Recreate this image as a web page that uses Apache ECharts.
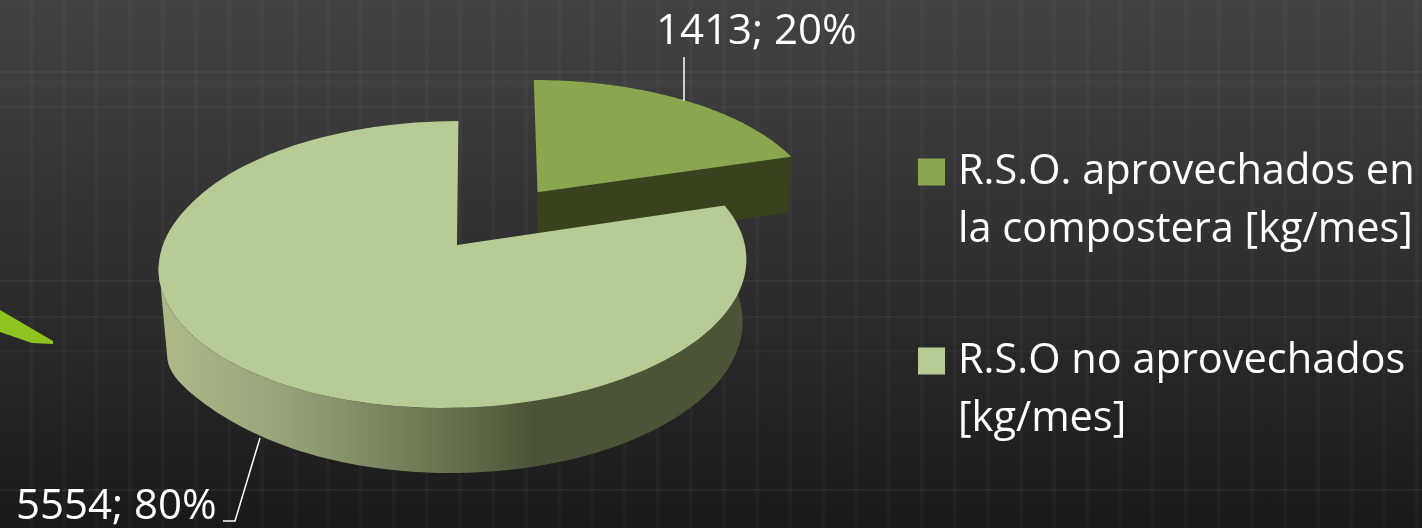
<!DOCTYPE html>
<html>
<head>
<meta charset="utf-8">
<style>
  html, body { margin: 0; height: 100%; background: #2b2b2b; overflow: hidden; }
  #main { width: 1422px; height: 528px; position: relative; }
  /* slide backdrop: dark fade with a faint woven plaid */
  #back {
    position: absolute; left: 0; top: 0; width: 1422px; height: 528px;
    background:
      linear-gradient(to bottom,
        transparent 71px, rgba(255,255,255,.04) 71px, rgba(255,255,255,.04) 73px, transparent 73px,
        transparent 80px, rgba(255,255,255,.02) 80px, rgba(255,255,255,.02) 87px, transparent 87px,
        transparent 106px, rgba(255,255,255,.025) 106px, rgba(255,255,255,.025) 108px, transparent 108px,
        transparent 280px, rgba(255,255,255,.04) 280px, rgba(255,255,255,.04) 282px, transparent 282px,
        transparent 316px, rgba(255,255,255,.04) 316px, rgba(255,255,255,.04) 318px, transparent 318px,
        transparent 350px, rgba(255,255,255,.025) 350px, rgba(255,255,255,.025) 352px, transparent 352px,
        transparent 489px, rgba(255,255,255,.05) 489px, rgba(255,255,255,.05) 491px, transparent 491px),
      repeating-linear-gradient(to right,
        transparent 0, transparent 29px, rgba(255,255,255,.025) 29px, rgba(255,255,255,.025) 33px),
      linear-gradient(to bottom, #424242 0, #2f2f2f 50%, #191919 100%);
  }
</style>
<script src="https://cdn.jsdelivr.net/npm/echarts@6/dist/echarts.min.js"></script>
</head>
<body>
<div id="back"></div>
<div id="main"></div>
<script>
const categories = ['R.S.O. aprovechados en\nla compostera [kg/mes]', 'R.S.O no aprovechados\n[kg/mes]'];
const values = [1413, 5554];
const explode = [0.49, 0];
const colors = ['#8aa64e', '#b7cc94'];
const wallColors = ['#39421f', null];

const total = values[0] + values[1];
const myChart = echarts.init(document.getElementById('main'));

// flat perspective view of the pie, the apex of the whole disc sits at cx, cy
const view = { cx: 457, cy: 245, a: 291, b: 140.8, k: 0.136, drop: 59, ys: 1.037 };

function project(u, v, low, idx) {
  const d = 1 - view.k * v;
  const x = view.a * u / d;
  const y = view.b * v / d;
  if (low) return [view.cx + x * (idx === 0 ? 0.995 : 0.98), view.cy + view.drop + y * view.ys];
  return [view.cx + x, view.cy + y];
}

// the original picture is slightly skewed, nudge the rim to follow it
function skew(v, idx) {
  if (v > -0.3) return -10.4 * (v + 0.3);
  return -(idx === 0 ? 5 : 2) * (v + 0.3);
}

function sliceAngles(idx) {
  let start = 0;
  for (let i = 0; i < idx; i++) start += values[i] / total * Math.PI * 2;
  return [start, start + values[idx] / total * Math.PI * 2];
}

function rim(idx, from, to, low) {
  const e = explode[idx];
  const [a0, a1] = sliceAngles(idx);
  const mid = (a0 + a1) / 2;
  const pts = [];
  const n = 120;
  for (let i = 0; i <= n; i++) {
    const t = from + (to - from) * i / n;
    const u = e * Math.sin(mid) + Math.sin(t);
    const v = -e * Math.cos(mid) - Math.cos(t);
    const p = project(u, v, low, idx);
    p[0] += skew(v, idx) * (low ? 0.5 : 1);
    // the left flank of the wall hangs lower in the original
    if (low && u < 0) p[1] += 29 * Math.pow(-u, 9);
    pts.push(p);
  }
  return pts;
}

function apex(idx, low) {
  const e = explode[idx];
  const [a0, a1] = sliceAngles(idx);
  const mid = (a0 + a1) / 2;
  return project(e * Math.sin(mid), -e * Math.cos(mid), low, idx);
}

function poly(points, fill) {
  return { type: 'polygon', shape: { points: points }, style: { fill: fill }, silent: true };
}

function smallSlice(params, api) {
  const idx = params.seriesIndex;
  const [a0, a1] = sliceAngles(idx);
  const top = rim(idx, a0, a1, false);
  const low = rim(idx, a0, a1, true);
  const children = [
    // front wall and outer wall, seen under the top face
    poly([apex(idx, false), top[top.length - 1], low[low.length - 1], apex(idx, true)], wallColors[idx]),
    poly([apex(idx, false)].concat(top), colors[idx])
  ];
  return { type: 'group', children: children };
}

function bigSlice(params, api) {
  const idx = params.seriesIndex;
  const [a0, a1] = sliceAngles(idx);
  const top = rim(idx, a0, a1, false);
  // wall only runs along the side that faces the viewer
  const wallTop = rim(idx, Math.PI * 0.46, Math.PI * 1.456, false);
  const wallLow = rim(idx, Math.PI * 0.46, Math.PI * 1.43, true);
  const children = [
    {
      type: 'polygon',
      shape: { points: wallTop.concat(wallLow.reverse()) },
      silent: true,
      style: {
        fill: new echarts.graphic.LinearGradient(0, 0, 1, 0, [
          { offset: 0, color: '#adbb88' },
          { offset: 0.2, color: '#98a57a' },
          { offset: 0.42, color: '#747f5a' },
          { offset: 0.64, color: '#4c5437' },
          { offset: 1, color: '#4c5437' }
        ])
      }
    },
    poly([apex(idx, false)].concat(top), colors[idx])
  ];
  return { type: 'group', children: children };
}

function seriesFor(idx, render) {
  return {
    name: categories[idx],
    type: 'custom',
    coordinateSystem: 'none',
    renderItem: render,
    itemStyle: { color: colors[idx] },
    silent: true,
    data: [values[idx]],
    z: 2 + idx
  };
}

function pct(i) {
  return values[i] + '; ' + Math.round(values[i] / total * 100) + '%';
}

const option = {
  animation: false,
  backgroundColor: 'transparent',
  legend: {
    orient: 'vertical',
    left: 918,
    top: 85,
    padding: 0,
    itemWidth: 27,
    itemHeight: 27,
    itemGap: 15,
    selectedMode: false,
    icon: 'rect',
    data: categories,
    formatter: function (name) { return '\n' + name; },
    textStyle: { color: '#fff', fontFamily: 'Open Sans', fontSize: 41.5, lineHeight: 58, padding: [0, 0, 0, 8] }
  },
  series: [seriesFor(0, smallSlice), seriesFor(1, bigSlice)],
  graphic: [
    // leader lines
    { type: 'polyline', shape: { points: [[684, 57], [684, 101]] }, style: { stroke: '#fff', lineWidth: 1.5, fill: null }, z: 5 },
    { type: 'polyline', shape: { points: [[260, 438], [235, 521], [223, 521]] }, style: { stroke: '#fff', lineWidth: 1.5, fill: null }, z: 5 },
    // data labels
    { type: 'text', x: 656, y: 11, style: { text: pct(0), fill: '#fff', font: '42px "Open Sans"' }, z: 5 },
    { type: 'text', x: 16, y: 486, style: { text: pct(1), fill: '#fff', font: '42px "Open Sans"' }, z: 5 },
    // the green tip sticking in from the slide on the left edge
    { type: 'polygon', shape: { points: [[0, 310], [53, 341], [53, 344], [32, 343], [0, 332]] }, style: { fill: '#8fc31f' }, z: 1 }
  ]
};
myChart.setOption(option);
</script>
</body>
</html>
